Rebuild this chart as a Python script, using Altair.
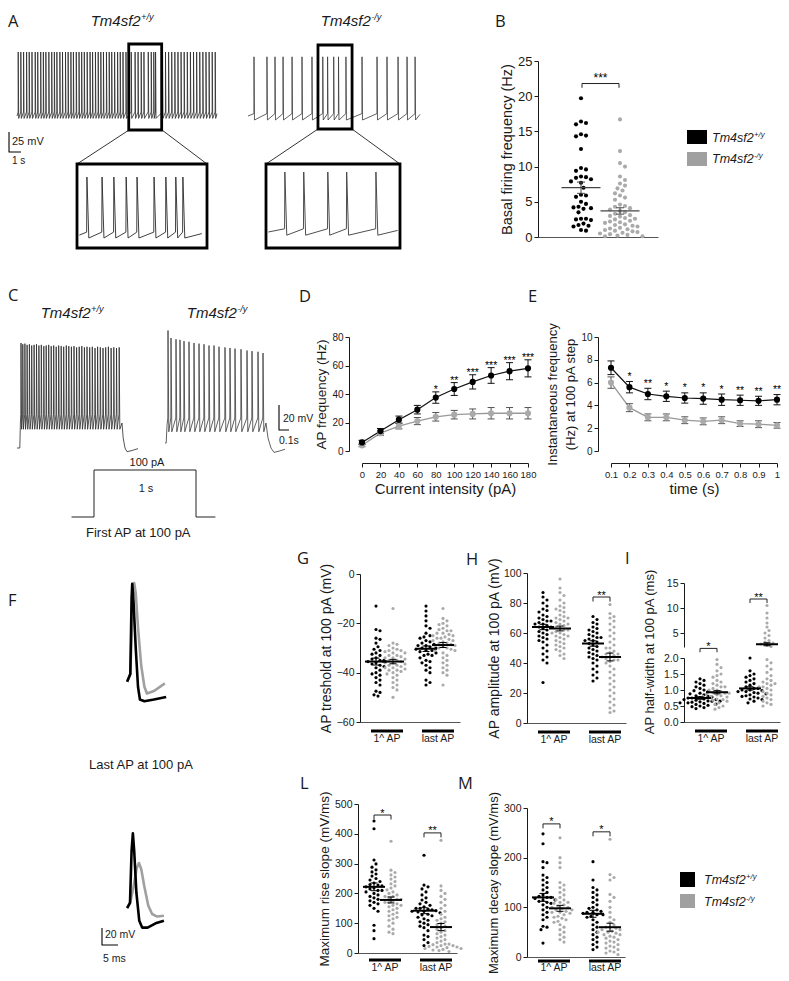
import altair as alt
import pandas as pd

# ======================= DATA =======================
# A: spontaneous firing, spike times (s)
A_WT_SPIKES = [0.10, 0.32, 0.55, 0.80, 1.02, 1.25, 1.52, 1.73, 1.98, 2.20, 2.41, 2.66, 2.90, 3.12,
               3.33, 3.58, 3.80, 4.05, 4.27, 4.50, 4.71, 4.95, 5.18, 5.40, 5.62, 5.86, 6.10, 6.31,
               6.55, 6.78, 7.00, 7.22, 7.47, 7.70, 7.91, 8.15, 8.40, 8.62, 8.85, 9.10, 9.54, 9.86,
               10.11, 10.37, 10.60, 10.96, 11.21, 11.42, 11.57, 12.15, 12.40, 12.66, 12.92, 13.18,
               13.44, 13.70, 13.96, 14.22, 14.48, 14.74, 15.00, 15.26, 15.52, 15.78, 16.04, 16.30, 16.55]
A_KO_SPIKES = [0.50, 1.58, 2.25, 2.92, 3.67, 4.50, 5.33, 6.23, 6.63, 7.14, 7.54, 8.16, 9.50,
               10.75, 11.58, 12.50, 13.25, 13.92]
A_WT_LEVELS = [-15, 60, -23]   # threshold, peak, AHP (mV)
A_KO_LEVELS = [-17, 54, -25]
A_WT_BOX = [9.33, 12.08]
A_KO_BOX = [5.83, 8.67]

# C: 100 pA step
C_WT_SPIKES = [0.040, 0.058, 0.079, 0.101, 0.124, 0.147, 0.171, 0.195, 0.219, 0.243, 0.268, 0.292,
               0.317, 0.342, 0.367, 0.392, 0.417, 0.442, 0.467, 0.493, 0.518, 0.544, 0.570, 0.596,
               0.622, 0.648, 0.674, 0.700, 0.727, 0.753, 0.780, 0.806, 0.833, 0.860, 0.887, 0.914,
               0.941, 0.968, 0.995, 1.022]
C_WT_PEAKS = [14, 13, 13.5, 12.5, 13, 12, 12.5, 13, 12, 12.5, 11.5, 12, 12.5, 11.5, 12, 11, 12, 11.5,
              11, 12, 11.5, 11, 11.5, 10.5, 11, 11.5, 10.5, 11, 10.5, 11, 10, 11, 10.5, 10, 10.5, 11,
              10, 10.5, 10, 10.5]
C_KO_SPIKES = [0.03, 0.06, 0.11, 0.15, 0.19, 0.24, 0.29, 0.34, 0.39, 0.44, 0.49, 0.54, 0.60, 0.65,
               0.70, 0.76, 0.82, 0.87, 0.93, 0.98]
C_KO_PEAKS = [24, 18, 17, 16.5, 15.5, 15, 14, 13.5, 13, 12, 12, 11, 10.5, 10, 9.5, 9, 8, 7.5, 7, 6]
C_WT_LEVELS = [-43, -55]
C_KO_LEVELS = [-46, -57]
C_WT_HEAD = [(0, -70), (0.028, -70), (0.034, -50)]
C_WT_TAIL = [(1.05, -50), (1.062, -62), (1.08, -70), (1.10, -73), (1.15, -72), (1.21, -70.5)]
C_KO_HEAD = [(0, -66), (0.012, -66), (0.02, -52)]
C_KO_TAIL = [(1.01, -50), (1.03, -62), (1.06, -70), (1.09, -73.5), (1.14, -72.5), (1.20, -71)]
STIM_T = [-0.22, 0.0, 0.0, 1.0, 1.0, 1.19]
STIM_I = [0, 0, 100, 100, 0, 0]

# F: single action potentials (ms, mV)
F1_WT_T = [1.6, 2.6, 3.0, 3.2, 3.6, 4.3, 5.0, 5.6, 7.0, 10.0, 13.8]
F1_WT_V = [-49, -40, 50, 66, 45, -10, -55, -70, -72, -70, -67]
F1_KO_T = [1.6, 2.6, 3.4, 3.8, 4.3, 5.0, 6.0, 7.0, 7.8, 10.0, 13.4]
F1_KO_V = [-49, -40, 50, 67, 55, 15, -30, -55, -63, -60, -51]
F2_WT_T = [1.6, 2.5, 3.0, 3.4, 3.8, 4.5, 5.4, 6.3, 8.0, 10.5, 13.1]
F2_WT_V = [-33, -27, 35, 55, 35, -15, -48, -56, -56, -51, -48]
F2_KO_T = [1.6, 2.6, 3.6, 4.6, 5.3, 6.0, 7.0, 8.2, 9.4, 11.0, 13.1]
F2_KO_V = [-33, -26, -8, 14, 20, 13, -8, -30, -40, -43, -42]

# B: basal firing frequency (Hz)
B_WT = [19.7, 16.4, 16.2, 16.0, 14.6, 14.4, 14.3, 12.5, 9.8, 9.6, 9.4, 8.6, 8.5, 8.4, 8.2, 7.9, 7.7,
        7.0, 6.0, 5.9, 5.7, 5.0, 4.7, 4.3, 4.2, 4.1, 4.0, 3.5, 2.6, 2.6, 2.5, 2.4, 1.9, 1.7, 1.6, 1.5,
        1.0, 0.9]
B_KO = [16.7, 12.2, 10.5, 10.0, 8.6, 8.1, 7.6, 7.3, 6.9, 6.6, 6.2, 5.9, 5.6, 5.3, 4.6, 4.4, 4.3, 4.1,
        3.9, 3.7, 3.5, 3.3, 3.1, 3.0, 2.9, 2.7, 2.6, 2.5, 2.3, 2.2, 2.1, 2.0, 1.8, 1.7, 1.6, 1.5, 1.3,
        1.2, 1.1, 1.0, 0.9, 0.8, 0.7, 0.6, 0.5, 0.4, 0.3, 0.2, 0.1, 0.1]
B_MEAN = [7.0, 3.7]
B_SEM = [0.8, 0.45]

# D: AP frequency vs current
D_I = [0, 20, 40, 60, 80, 100, 120, 140, 160, 180]
D_WT = [6, 14, 22, 29, 37.5, 43.5, 48.5, 53, 56, 58]
D_WT_SEM = [1.5, 1.8, 2.5, 3, 4, 4.5, 5, 5.5, 6, 6]
D_KO = [4, 12.5, 17.5, 21, 24, 25.5, 26, 26.5, 26.5, 26.5]
D_KO_SEM = [1, 1.5, 2, 2.5, 3, 3, 3.5, 4, 4, 4]
D_STARS = ["", "", "", "", "*", "**", "***", "***", "***", "***"]

# E: instantaneous frequency vs time
E_T = [0.1, 0.2, 0.3, 0.4, 0.5, 0.6, 0.7, 0.8, 0.9, 1.0]
E_WT = [7.3, 5.6, 5.0, 4.8, 4.65, 4.6, 4.5, 4.45, 4.4, 4.5]
E_WT_SEM = [0.6, 0.5, 0.5, 0.45, 0.45, 0.5, 0.5, 0.45, 0.4, 0.45]
E_KO = [6.0, 3.8, 2.95, 2.95, 2.7, 2.6, 2.7, 2.4, 2.35, 2.25]
E_KO_SEM = [0.5, 0.35, 0.3, 0.3, 0.3, 0.3, 0.3, 0.25, 0.3, 0.25]
E_STARS = ["", "*", "**", "*", "*", "*", "*", "**", "**", "**"]

# G: AP threshold (mV)  [WT 1st, KO 1st, WT last, KO last]
G_WT1 = [-13, -22.5, -23, -26, -26.5, -28, -29.5, -30.5, -31, -32, -32.5, -33, -34, -34.5, -35, -35.5,
         -36, -36.5, -37, -37.5, -38, -39, -40, -40.5, -41, -42, -43, -44, -45, -47.5, -48, -49, -49.5, -35]
G_KO1 = [-14, -28, -28.5, -29, -30, -30.5, -31, -31.5, -32, -33, -33.5, -34, -34.5, -35, -35.5, -36,
         -36.5, -37, -37.5, -38, -38.5, -39, -39.5, -40, -40.5, -41, -42, -43, -44, -45, -46, -47, -50,
         -36, -37, -38, -39, -35, -34, -33, -32, -31]
G_WT2 = [-13, -15, -17, -19, -21, -22, -24, -25, -25.5, -26, -27, -27.5, -28, -28.5, -29, -29.5, -30,
         -30.5, -31, -31.5, -32, -32.5, -33, -34, -35, -35.5, -36, -37, -38, -39, -40, -43, -44, -45,
         -30, -29, -31, -33]
G_KO2 = [-14, -18, -19, -20, -20.5, -21, -22, -22.5, -23, -24, -24.5, -25, -25.5, -26, -26.5, -27,
         -27.5, -28, -28.5, -29, -29.5, -30, -30.5, -31, -32, -33, -34, -35, -36, -37, -38, -39, -40,
         -41, -45, -26, -27, -28, -29, -30, -31, -25, -24, -23]
G_MEAN = [-35.5, -35.5, -30.3, -28.8]
G_SEM = [1.4, 0.9, 1.1, 1.0]

# H: AP amplitude (mV)
H_WT1 = [87, 84, 82, 80, 78, 76, 75, 74, 72, 71, 70, 69, 68, 67, 66, 66, 65, 64, 63, 62, 61, 60, 59,
         58, 57, 56, 55, 54, 52, 50, 48, 46, 44, 42, 40, 27, 68, 64]
H_KO1 = [96, 90, 87, 85, 82, 80, 78, 77, 76, 75, 74, 72, 71, 70, 69, 68, 67, 66, 65, 64, 63, 62, 61,
         60, 59, 58, 57, 56, 55, 54, 53, 52, 51, 50, 49, 48, 46, 45, 43, 62, 60, 58, 66, 70]
H_WT2 = [71, 69, 67, 66, 64, 63, 62, 61, 60, 59, 58, 57, 56, 55, 54, 53, 52, 51, 50, 49, 48, 47, 46,
         45, 44, 43, 42, 40, 38, 36, 34, 32, 30, 28, 55, 57]
H_KO2 = [79, 73, 71, 70, 68, 66, 64, 62, 60, 58, 56, 54, 52, 50, 48, 47, 46, 45, 44, 43, 42, 41, 40,
         38, 36, 34, 32, 30, 28, 26, 24, 22, 20, 18, 16, 14, 12, 10, 8, 7, 44, 46, 42, 50]
H_MEAN = [64, 63, 53, 44]
H_SEM = [1.8, 1.6, 1.8, 2.6]

# I: AP half-width (ms)
I_WT1 = [1.35, 1.3, 1.25, 1.2, 1.15, 1.1, 1.05, 1.0, 0.98, 0.95, 0.9, 0.88, 0.85, 0.82, 0.8, 0.78,
         0.76, 0.75, 0.72, 0.7, 0.68, 0.66, 0.65, 0.63, 0.62, 0.6, 0.58, 0.56, 0.55, 0.52, 0.5, 0.48,
         0.45, 0.42, 0.7, 0.65, 0.6, 0.75]
I_KO1 = [1.95, 1.8, 1.7, 1.6, 1.5, 1.45, 1.4, 1.3, 1.25, 1.2, 1.15, 1.1, 1.05, 1.0, 0.95, 0.92, 0.9,
         0.88, 0.85, 0.82, 0.8, 0.78, 0.75, 0.72, 0.7, 0.68, 0.65, 0.6, 0.55, 0.5, 0.45, 0.4, 1.0, 0.9,
         0.8, 1.1]
I_WT2 = [2.0, 1.6, 1.5, 1.45, 1.4, 1.35, 1.3, 1.25, 1.2, 1.15, 1.1, 1.05, 1.0, 0.98, 0.95, 0.92, 0.9,
         0.88, 0.85, 0.82, 0.8, 0.78, 0.75, 0.72, 0.7, 0.65, 0.6, 1.0, 1.05, 0.95]
I_KO2 = [10.5, 9.0, 8.0, 7.0, 6.2, 5.5, 5.0, 4.5, 4.0, 3.5, 3.2, 3.0, 2.8, 2.5, 2.3, 1.95, 1.85, 1.75,
         1.65, 1.55, 1.45, 1.35, 1.3, 1.25, 1.2, 1.15, 1.1, 1.05, 1.0, 0.95, 0.9, 0.85, 0.8, 0.75, 0.7,
         0.65, 0.6, 0.55, 0.5, 1.1, 1.2]
I_MEAN = [0.75, 0.93, 1.05, 2.75]
I_SEM = [0.04, 0.05, 0.05, 0.3]

# L: maximum rise slope (mV/ms)
L_WT1 = [443, 417, 312, 299, 288, 279, 272, 265, 258, 250, 245, 240, 235, 230, 228, 225, 222, 218,
         215, 210, 205, 200, 195, 190, 185, 180, 175, 170, 165, 160, 150, 140, 93, 75, 48, 210]
L_KO1 = [375, 278, 270, 262, 255, 248, 240, 232, 225, 218, 212, 205, 200, 195, 190, 185, 180, 175,
         170, 165, 160, 155, 150, 145, 140, 135, 130, 125, 120, 115, 110, 100, 90, 80, 70, 65, 180, 170,
         160, 190]
L_WT2 = [328, 228, 222, 215, 205, 195, 185, 178, 170, 165, 160, 155, 150, 147, 145, 142, 140, 138,
         135, 130, 128, 125, 120, 115, 110, 105, 100, 95, 90, 85, 75, 60, 55, 45, 35, 25, 140, 150]
L_KO2 = [378, 225, 210, 200, 190, 180, 170, 160, 150, 140, 130, 120, 115, 110, 105, 100, 95, 90, 85,
         80, 75, 70, 65, 60, 55, 50, 45, 40, 35, 30, 28, 25, 22, 20, 18, 15, 12, 10, 8, 5, 30, 25, 20, 15]
L_MEAN = [222, 178, 142, 87]
L_SEM = [13, 10, 10, 12]

# M: maximum decay slope (mV/ms)
M_WT1 = [248, 228, 192, 190, 180, 165, 160, 155, 150, 145, 140, 135, 130, 125, 122, 120, 118, 115,
         112, 110, 108, 105, 100, 95, 90, 85, 80, 75, 62, 60, 55, 28, 120, 115]
M_KO1 = [240, 200, 190, 180, 150, 145, 140, 135, 130, 125, 120, 115, 110, 108, 105, 102, 100, 98, 95,
         92, 90, 88, 85, 82, 80, 78, 75, 72, 70, 65, 60, 55, 50, 45, 40, 35, 30, 100, 95, 90, 110, 115]
M_WT2 = [192, 155, 140, 135, 130, 125, 120, 115, 110, 105, 100, 98, 95, 92, 90, 88, 85, 82, 80, 75,
         70, 65, 60, 55, 50, 45, 40, 35, 30, 25, 20, 15, 85, 90]
M_KO2 = [237, 166, 160, 155, 126, 120, 112, 100, 90, 80, 75, 70, 65, 60, 58, 55, 52, 50, 48, 45, 42,
         40, 38, 35, 32, 30, 28, 25, 22, 20, 18, 15, 12, 10, 8, 5, 60, 55, 50, 45]
M_MEAN = [120, 98, 87, 60]
M_SEM = [8, 6, 7, 8]

CATS = ["1^ AP", "last AP"]

# ======================= helpers =======================
W, H = 773, 965
MG = 8
FONT = "Liberation Sans"
LFONT = "Open Sans"
BLK = "#000000"
GDOT = "#aaaaaa"
GLINE = "#999999"
AXC = "#1a1a1a"
ONE = pd.DataFrame({"k": [0]})


def R(v):
    return v - MG


def S(d0, d1, r0, r1):
    return alt.Scale(domain=[d0, d1], range=[R(r0), R(r1)], nice=False, zero=False)


def YAX(xref, values, title=None, fmt=None, tsize=14, lsize=10.5, tpad=3, lh=None):
    kw = dict(orient="left", offset=-R(xref), values=values, grid=False, tickSize=4,
              tickColor=AXC, domainColor=AXC, domainWidth=1, labelFont=FONT, labelFontSize=lsize,
              labelColor=AXC, labelPadding=2, labelOverlap=False, labelFlush=False, labelBound=False,
              titleFont=FONT, titleFontSize=tsize, titleFontWeight="normal", titleColor=AXC,
              titlePadding=tpad, title=title)
    if fmt:
        kw["format"] = fmt
    if lh:
        kw["titleLineHeight"] = lh
    return alt.Axis(**kw)


def XAX(yref, values, title=None, fmt=None, tsize=15, lsize=10, tpad=3):
    kw = dict(orient="bottom", offset=R(yref) - H, values=values, grid=False, tickSize=4,
              tickColor=AXC, domainColor=AXC, domainWidth=1, labelFont=FONT, labelFontSize=lsize,
              labelColor=AXC, labelPadding=2, labelOverlap=False, labelFlush=False, labelBound=False,
              titleFont=FONT, titleFontSize=tsize, titleFontWeight="normal", titleColor=AXC,
              titlePadding=tpad, title=title)
    if fmt:
        kw["format"] = fmt
    return alt.Axis(**kw)


def XPLAIN(yref, color="#555555"):
    return alt.Axis(orient="bottom", offset=R(yref) - H, ticks=False, labels=False, title=None,
                    grid=False, domainColor=color, domainWidth=1.2)


def T(s, x, y, size=11, font=FONT, align="left", baseline="middle", style="normal", color=AXC, angle=None):
    mk = dict(text=s, font=font, fontSize=size, align=align, baseline=baseline, fontStyle=style, color=color)
    if angle is not None:
        mk["angle"] = angle
    return alt.Chart(ONE).mark_text(**mk).encode(x=alt.value(R(x)), y=alt.value(R(y)))


def gene(x, ybase, sup, size, center=False):
    w = 3.334 * size
    ss = size * 0.62
    sw = (1.36 if sup.startswith("+") else 1.11) * ss
    if center:
        x = x - (w + sw) / 2
    return [T("Tm4sf2", x, ybase, size, align="left", baseline="alphabetic", style="italic"),
            T(sup, x + w + 0.3, ybase - size * 0.42, ss, align="left", baseline="alphabetic", style="italic")]


def seg(x1, y1, x2, y2, w=0.8, color=BLK):
    return alt.Chart(ONE).mark_rule(color=color, strokeWidth=w).encode(
        x=alt.value(R(x1)), y=alt.value(R(y1)), x2=alt.value(R(x2)), y2=alt.value(R(y2)))


def rect(x1, y1, x2, y2, color):
    return alt.Chart(ONE).mark_rect(color=color).encode(
        x=alt.value(R(x1)), y=alt.value(R(y1)), x2=alt.value(R(x2)), y2=alt.value(R(y2)))


def trace(head, times, peaks, thr, trough, tail, rise, fall):
    pts = list(head)
    for i, t in enumerate(times):
        pk = peaks[i] if isinstance(peaks, list) else peaks
        pts += [(t - rise, thr), (t, pk), (t + fall, trough)]
    pts += list(tail)
    return pd.DataFrame({"t": [p[0] for p in pts], "v": [p[1] for p in pts], "o": list(range(len(pts)))})


def line(df, sx, sy, color, width, xf="t", yf="v"):
    return alt.Chart(df).mark_line(color=color, strokeWidth=width, strokeJoin="round").encode(
        x=alt.X(f"{xf}:Q", scale=sx, axis=None), y=alt.Y(f"{yf}:Q", scale=sy, axis=None), order="o:Q")


def box(t0, t1, v0, v1, sx, sy, w=2.8):
    df = pd.DataFrame({"a": [t0], "b": [t1], "c": [v0], "d": [v1]})
    return alt.Chart(df).mark_rect(fillOpacity=0, stroke=BLK, strokeWidth=w).encode(
        x=alt.X("a:Q", scale=sx, axis=None), x2=alt.X2("b"),
        y=alt.Y("c:Q", scale=sy, axis=None), y2=alt.Y2("d"))


def sbar(sx, sy, x0, x1, v0, v1):
    df = pd.DataFrame({"t": [x0, x0, x1], "v": [v1, v0, v0], "o": [0, 1, 2]})
    return line(df, sx, sy, BLK, 1.1)


def swarm(vals, pix, diam):
    order = sorted(range(len(vals)), key=lambda i: -vals[i])
    cands = [0.0]
    for k in range(1, 60):
        cands += [k * diam * 0.5, -k * diam * 0.5]
    placed, offs = [], [0.0] * len(vals)
    for i in order:
        yp = pix(vals[i])
        for c in cands:
            if all((c - a) ** 2 + (yp - b) ** 2 >= diam * diam for a, b in placed):
                offs[i] = c
                placed.append((c, yp))
                break
    return offs


def mean_layers(sx, sy, centers, means, sems, half, cap, color=BLK, w=2.0):
    df = pd.DataFrame({"x0": [c - half for c in centers], "x1": [c + half for c in centers],
                       "xc": centers, "c0": [c - cap for c in centers], "c1": [c + cap for c in centers],
                       "m": means, "lo": [m - s for m, s in zip(means, sems)],
                       "hi": [m + s for m, s in zip(means, sems)]})
    ex = lambda f: alt.X(f, scale=sx, axis=None)
    ey = lambda f: alt.Y(f, scale=sy, axis=None)
    return [
        alt.Chart(df).mark_rule(color=color, strokeWidth=1).encode(x=ex("xc:Q"), y=ey("lo:Q"), y2=alt.Y2("hi")),
        alt.Chart(df).mark_rule(color=color, strokeWidth=1).encode(x=ex("c0:Q"), x2=alt.X2("c1"), y=ey("lo:Q")),
        alt.Chart(df).mark_rule(color=color, strokeWidth=1).encode(x=ex("c0:Q"), x2=alt.X2("c1"), y=ey("hi:Q")),
        alt.Chart(df).mark_rule(color=color, strokeWidth=w).encode(x=ex("x0:Q"), x2=alt.X2("x1"), y=ey("m:Q")),
    ]


def bracket_layers(sx, sy, brs, size=11, dy=1.5):
    rows, srows = [], []
    for j, (xa, xb, yb, dr, lab) in enumerate(brs):
        pts = [(xa, yb - dr), (xa, yb), (xb, yb), (xb, yb - dr)]
        rows += [{"x": p[0], "y": p[1], "id": j, "o": i} for i, p in enumerate(pts)]
        srows.append({"x": (xa + xb) / 2, "y": yb, "s": lab})
    return [
        alt.Chart(pd.DataFrame(rows)).mark_line(color="#222222", strokeWidth=1).encode(
            x=alt.X("x:Q", scale=sx, axis=None), y=alt.Y("y:Q", scale=sy, axis=None),
            detail="id:N", order="o:Q"),
        alt.Chart(pd.DataFrame(srows)).mark_text(font=FONT, fontSize=size, baseline="alphabetic", dy=dy,
                                                 color=BLK).encode(
            x=alt.X("x:Q", scale=sx, axis=None), y=alt.Y("y:Q", scale=sy, axis=None), text="s:N"),
    ]


def cat_layers(sx, ybar, ylab):
    df = pd.DataFrame({"a": [11, 62], "b": [43, 94], "m": [27, 78], "t": CATS})
    return [
        alt.Chart(df).mark_rule(color=BLK, strokeWidth=3).encode(
            x=alt.X("a:Q", scale=sx, axis=None), x2=alt.X2("b"), y=alt.value(R(ybar))),
        alt.Chart(df).mark_text(font=FONT, fontSize=10.5, color=AXC).encode(
            x=alt.X("m:Q", scale=sx, axis=None), y=alt.value(R(ylab)), text="t:N"),
    ]


def dots_df(groups, centers, pix, diam):
    rows = []
    for (vals, col), c in zip(groups, centers):
        offs = swarm(vals, pix, diam)
        rows += [{"x": c + o, "v": v, "c": col} for v, o in zip(vals, offs)]
    return pd.DataFrame(rows)


CENT = [16, 33, 66, 83]


def scatter_panel(ax, ln, ybot, ytop, dom, yticks, title, vals4, means, sems, brs,
                  tsize=14, lsize=10.5, tpad=3, ybar=None, ylab=None):
    sx = S(0, ln, ax, ax + ln)
    sy = S(dom[0], dom[1], ybot, ytop)
    k = (ybot - ytop) / (dom[1] - dom[0])
    groups = list(zip(vals4, [BLK, GDOT, BLK, GDOT]))
    df = dots_df(groups, CENT, lambda v: (v - dom[0]) * k, 4.0)
    out = [alt.Chart(df).mark_circle(size=10, opacity=1).encode(
        x=alt.X("x:Q", scale=sx, axis=XPLAIN(ybot)),
        y=alt.Y("v:Q", scale=sy, axis=YAX(ax, yticks, title, None, tsize, lsize, tpad)),
        color=alt.Color("c:N", scale=None))]
    out += mean_layers(sx, sy, CENT, means, sems, 11, 3.5)
    if brs:
        out += bracket_layers(sx, sy, brs)
    out += cat_layers(sx, ybar if ybar else ybot + 9, ylab if ylab else ybot + 17)
    return out


layers = []

# ======================= panel letters =======================
for s, x, y in [("A", 8, 22), ("B", 495, 22), ("C", 8, 296), ("D", 299, 297), ("E", 528, 297),
                ("F", 8, 601), ("G", 297, 559), ("H", 466, 560), ("I", 625, 559), ("L", 300, 784),
                ("M", 458, 784)]:
    layers.append(T(s, x, y, 16.5, font=LFONT, align="left"))

# ======================= A =======================
sxAw = S(0, 16.7, 17, 217)
sxAk = S(0, 14.33, 248, 420)
syA = S(-40, 60, 132, 52)
sxAwi = S(A_WT_BOX[0], A_WT_BOX[1], 77, 207)
syAwi = S(-40, 60, 250.5, 177)
sxAki = S(A_KO_BOX[0], A_KO_BOX[1], 266, 400)
syAki = S(-40, 60, 247.2, 167.2)

thr, pk, ahp = A_WT_LEVELS
layers.append(line(trace([(0, -20)], A_WT_SPIKES, pk, thr, ahp, [(16.7, -17)], 0.006, 0.04), sxAw, syA, "#2a2a2a", 0.8))
win = [t for t in A_WT_SPIKES if A_WT_BOX[0] < t < A_WT_BOX[1]]
layers.append(line(trace([(A_WT_BOX[0] + 0.05, -19)], win, pk, thr, ahp, [(11.97, -17)], 0.006, 0.04), sxAwi, syAwi, "#2a2a2a", 0.9))
thr, pk, ahp = A_KO_LEVELS
layers.append(line(trace([(0, -20)], A_KO_SPIKES, pk, thr, ahp, [(14.33, -18)], 0.006, 0.04), sxAk, syA, "#3a3a3a", 0.8))
win = [t for t in A_KO_SPIKES if A_KO_BOX[0] < t < A_KO_BOX[1]]
layers.append(line(trace([(A_KO_BOX[0] + 0.05, -21)], win, pk, thr, ahp, [(8.62, -19)], 0.006, 0.04), sxAki, syAki, "#3a3a3a", 0.9))

layers.append(box(A_WT_BOX[0], A_WT_BOX[1], -37.5, 70, sxAw, syA))
layers.append(box(A_KO_BOX[0], A_KO_BOX[1], -36.25, 68.75, sxAk, syA))
layers.append(box(A_WT_BOX[0], A_WT_BOX[1], -36.6, 77.7, sxAwi, syAwi))
layers.append(box(A_KO_BOX[0], A_KO_BOX[1], -41, 64, sxAki, syAki))
layers += [seg(129, 130, 77, 164), seg(162, 130, 207, 164), seg(318, 129, 266, 164), seg(352, 129, 400, 164)]
layers.append(sbar(sxAw, syA, -0.667, 0.333, -65, -40))
layers.append(T("25 mV", 12, 142, 11))
layers.append(T("1 s", 12, 161, 10))
layers += gene(122, 26, "+/y", 15, center=True)
layers += gene(351, 26, "-/y", 15, center=True)

# ======================= C =======================
sxCw = S(0, 1.21, 17, 138)
sxCk = S(0, 1.2, 165, 285)
syC = S(-80, 20, 460.5, 335.5)
layers.append(line(trace(C_WT_HEAD, C_WT_SPIKES, C_WT_PEAKS, C_WT_LEVELS[0], C_WT_LEVELS[1], C_WT_TAIL, 0.002, 0.006), sxCw, syC, "#2a2a2a", 0.8))
layers.append(line(trace(C_KO_HEAD, C_KO_SPIKES, C_KO_PEAKS, C_KO_LEVELS[0], C_KO_LEVELS[1], C_KO_TAIL, 0.002, 0.008), sxCk, syC, "#3a3a3a", 0.8))
layers.append(sbar(sxCk, syC, 1.14, 1.24, -55.6, -35.6))
layers.append(T("20 mV", 283, 419, 10.5))
layers.append(T("0.1s", 279, 441, 10.5))
layers += gene(72, 318, "+/y", 15, center=True)
layers += gene(217, 318, "-/y", 15, center=True)
sxSt = S(0, 1, 94, 196)
sySt = S(0, 100, 517, 470)
layers.append(line(pd.DataFrame({"t": STIM_T, "v": STIM_I, "o": list(range(len(STIM_T)))}), sxSt, sySt, "#222222", 1))
layers.append(T("100 pA", 147, 463, 11, align="center"))
layers.append(T("1 s", 146, 489, 11, align="center"))

# ======================= F =======================
sxF = S(0, 15, 122, 170)
syF1 = S(-100, 100, 725, 555)
syF2 = S(-100, 100, 965, 795)


def fdf(t, v):
    return pd.DataFrame({"t": t, "v": v, "o": list(range(len(t)))})


layers.append(line(fdf(F1_KO_T, F1_KO_V), sxF, syF1, "#a0a0a0", 2.6))
layers.append(line(fdf(F1_WT_T, F1_WT_V), sxF, syF1, BLK, 2.6))
layers.append(line(fdf(F2_KO_T, F2_KO_V), sxF, syF2, "#a0a0a0", 2.6))
layers.append(line(fdf(F2_WT_T, F2_WT_V), sxF, syF2, BLK, 2.6))
layers.append(sbar(sxF, syF2, -6.25, -1.25, -76.5, -56.5))
layers.append(T("20 mV", 105, 935, 10.5))
layers.append(T("5 ms", 103, 959, 10.5))
layers.append(T("First AP at 100 pA", 86, 533, 13))
layers.append(T("Last AP at 100 pA", 89, 765, 13))

# ======================= B =======================
sxB = S(0, 120, 538, 658)
syB = S(0, 25, 237, 61)
kB = (237 - 61) / 25
dfB = dots_df([(B_WT, BLK), (B_KO, GDOT)], [43, 82], lambda v: v * kB, 5.0)
layers.append(alt.Chart(dfB).mark_circle(size=17, opacity=1).encode(
    x=alt.X("x:Q", scale=sxB, axis=XPLAIN(237)),
    y=alt.Y("v:Q", scale=syB, axis=YAX(538, [0, 5, 10, 15, 20, 25], "Basal firing frequency (Hz)", None, 14.5, 13, 3)),
    color=alt.Color("c:N", scale=None)))
layers += mean_layers(sxB, syB, [43, 82], B_MEAN, B_SEM, 19.5, 4, color="#444444", w=1.3)
layers += bracket_layers(sxB, syB, [(44, 81, 21.8, 0.6, "***")], size=12, dy=-1.5)

# legends
layers.append(rect(687, 130, 707, 144, BLK))
layers.append(rect(687, 152, 707, 166, "#a0a0a0"))
layers += gene(712, 142, "+/y", 12.5)
layers += gene(712, 163, "-/y", 12.5)
layers.append(rect(680, 872, 695, 887, BLK))
layers.append(rect(680, 894, 695, 908, "#a0a0a0"))
layers += gene(704, 884, "+/y", 12.5)
layers += gene(704, 906, "-/y", 12.5)

# ======================= D / E =======================
def line_panel(xs, wt, wts, ko, kos, stars, sx, sy, yax, xax, cap, star_dy):
    n = len(xs)
    dk = pd.DataFrame({"x": xs, "m": ko})
    dw = pd.DataFrame({"x": xs, "m": wt})
    de = pd.DataFrame({"x": xs + xs, "lo": [m - s for m, s in zip(ko, kos)] + [m - s for m, s in zip(wt, wts)],
                       "hi": [m + s for m, s in zip(ko, kos)] + [m + s for m, s in zip(wt, wts)],
                       "m": ko + wt, "c": [GDOT] * n + [BLK] * n, "ec": ["#555555"] * n + ["#111111"] * n,
                       "c0": [x - cap for x in xs] * 2, "c1": [x + cap for x in xs] * 2})
    ds = pd.DataFrame({"x": xs, "y": [m + s for m, s in zip(wt, wts)], "s": stars})
    ex = lambda f: alt.X(f, scale=sx, axis=None)
    ey = lambda f: alt.Y(f, scale=sy, axis=None)
    ec = alt.Color("ec:N", scale=None)
    return [
        alt.Chart(dk).mark_line(color=GLINE, strokeWidth=1.3).encode(
            x=alt.X("x:Q", scale=sx, axis=xax), y=alt.Y("m:Q", scale=sy, axis=yax)),
        alt.Chart(dw).mark_line(color="#111111", strokeWidth=1.2).encode(x=ex("x:Q"), y=ey("m:Q")),
        alt.Chart(de).mark_rule(strokeWidth=1).encode(x=ex("x:Q"), y=ey("lo:Q"), y2=alt.Y2("hi"), color=ec),
        alt.Chart(de).mark_rule(strokeWidth=1).encode(x=ex("c0:Q"), x2=alt.X2("c1"), y=ey("lo:Q"), color=ec),
        alt.Chart(de).mark_rule(strokeWidth=1).encode(x=ex("c0:Q"), x2=alt.X2("c1"), y=ey("hi:Q"), color=ec),
        alt.Chart(de).mark_circle(size=38, opacity=1).encode(x=ex("x:Q"), y=ey("m:Q"), color=alt.Color("c:N", scale=None)),
        alt.Chart(ds).mark_text(font=FONT, fontSize=10.5, baseline="alphabetic", dy=star_dy, color=BLK).encode(
            x=ex("x:Q"), y=ey("y:Q"), text="s:N"),
    ]


sxD = S(0, 180, 362, 528)
syD = S(0, 80, 451, 337)
layers += line_panel(D_I, D_WT, D_WT_SEM, D_KO, D_KO_SEM, D_STARS, sxD, syD,
                     YAX(349, [0, 20, 40, 60, 80], "AP frequency (Hz)", None, 13.5, 10, 3),
                     XAX(463, D_I, "Current intensity (pA)", None, 15, 9.5, 3),
                     3.8, 1)
sxE = S(0.1, 1.0, 611, 777)
syE = S(0, 10, 451, 337)
layers += line_panel(E_T, E_WT, E_WT_SEM, E_KO, E_KO_SEM, E_STARS, sxE, syE,
                     YAX(598, [0, 2, 4, 6, 8, 10], ["Instantaneous frequency", "(Hz) at 100 pA step"], None, 13, 10, 3, lh=18),
                     XAX(463, E_T, "time (s)", "~g", 15, 9.5, 3),
                     0.019, -1.5)

# ======================= G, H, L, M =======================
layers += scatter_panel(360, 100, 722, 574, [-60, 0], [-60, -40, -20, 0], "AP treshold at 100 pA (mV)",
                        [G_WT1, G_KO1, G_WT2, G_KO2], G_MEAN, G_SEM, [])
layers += scatter_panel(527, 99, 723, 573, [0, 100], [0, 20, 40, 60, 80, 100], "AP amplitude at 100 pA (mV)",
                        [H_WT1, H_KO1, H_WT2, H_KO2], H_MEAN, H_SEM, [(66, 83, 84, 3, "**")], tpad=2)
layers += scatter_panel(358, 99, 953, 804, [0, 500], [0, 100, 200, 300, 400, 500], "Maximum rise slope (mV/ms)",
                        [L_WT1, L_KO1, L_WT2, L_KO2], L_MEAN, L_SEM,
                        [(16, 33, 463, 15, "*"), (66, 83, 403, 15, "**")], tsize=13.5, ybar=960, ylab=967.5)
layers += scatter_panel(527, 98, 957, 808, [0, 300], [0, 100, 200, 300], "Maximum decay slope (mV/ms)",
                        [M_WT1, M_KO1, M_WT2, M_KO2], M_MEAN, M_SEM,
                        [(16, 33, 268, 9, "*"), (66, 83, 252, 9, "*")], tsize=13, ybar=961, ylab=967.5)

# ======================= I (broken axis) =======================
axI, lnI = 684, 96
sxI = S(0, lnI, axI, axI + lnI)
syIl = S(0, 2, 722, 658)
syIu = S(2.2, 15, 647, 583)


def pixI(v):
    return v * 32 if v <= 2.05 else 75 + (v - 2.2) * 5


dfI = dots_df(list(zip([I_WT1, I_KO1, I_WT2, I_KO2], [BLK, GDOT, BLK, GDOT])), CENT, pixI, 4.0)
dfIl = dfI[dfI["v"] <= 2.05]
dfIu = dfI[dfI["v"] > 2.05]
layers.append(alt.Chart(dfIl).mark_circle(size=10, opacity=1).encode(
    x=alt.X("x:Q", scale=sxI, axis=XPLAIN(722)),
    y=alt.Y("v:Q", scale=syIl, axis=YAX(axI, [0, 0.5, 1.0, 1.5, 2.0], None, ".1f", 13, 10.5)),
    color=alt.Color("c:N", scale=None)))
layers.append(alt.Chart(dfIu).mark_circle(size=10, opacity=1).encode(
    x=alt.X("x:Q", scale=sxI, axis=None),
    y=alt.Y("v:Q", scale=syIu, axis=YAX(axI, [5, 10, 15], None, None, 13, 10.5)),
    color=alt.Color("c:N", scale=None)))
layers += mean_layers(sxI, syIl, CENT[:3], I_MEAN[:3], I_SEM[:3], 11, 3.5)
layers += mean_layers(sxI, syIu, CENT[3:], I_MEAN[3:], I_SEM[3:], 11, 3.5)
layers += bracket_layers(sxI, syIl, [(16, 33, 2.3, 0.12, "*")])
layers += bracket_layers(sxI, syIu, [(66, 83, 11.8, 0.8, "**")])
layers += cat_layers(sxI, 731, 739)
layers.append(T("AP half-width at 100 pA (ms)", 650, 652, 13, align="center", angle=270))

# ======================= assemble =======================
chart = (
    alt.layer(*layers)
    .resolve_scale(x="independent", y="independent")
    .properties(width=W, height=H, padding=0, autosize=alt.AutoSizeParams(type="none", contains="padding"))
    .configure_view(stroke="transparent")
)
chart.save("out.html", embed_options={"renderer": "svg", "actions": False})
